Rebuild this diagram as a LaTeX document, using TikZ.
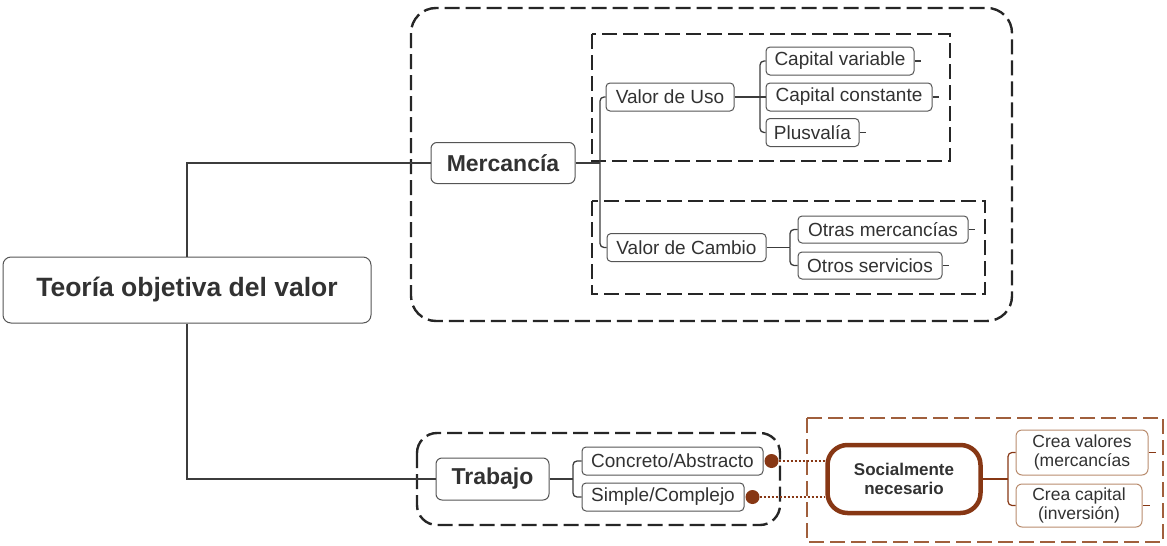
\documentclass[tikz,border=0pt]{standalone}
\usepackage{fontspec}
\setmainfont{Liberation Sans}
\definecolor{txt}{RGB}{50,50,50}
\definecolor{boxgray}{RGB}{85,85,85}
\definecolor{linegray}{RGB}{60,60,60}
\definecolor{brownD}{RGB}{135,55,20}
\definecolor{brownM}{RGB}{160,95,60}
\definecolor{brownL}{RGB}{185,140,110}
\tikzset{
  box/.style={draw=boxgray, line width=1pt, rounded corners=4pt, fill=white, inner sep=0pt,
    text=txt, font=\fontsize{19}{21}\selectfont},
  bigbox/.style={box, rounded corners=8pt, font=\bfseries\fontsize{26.5}{30}\selectfont},
  midbox/.style={box, rounded corners=6pt, font=\bfseries\fontsize{23}{26}\selectfont},
  socbox/.style={draw=brownD, line width=4.5pt, rounded corners=20pt, fill=white, inner sep=0pt,
    text=txt, align=center, font=\bfseries\fontsize{17}{19}\selectfont},
  creabox/.style={draw=brownL, line width=1pt, rounded corners=6pt, fill=white, inner sep=0pt,
    text=txt, align=center, font=\fontsize{17.5}{19.5}\selectfont},
  conn/.style={draw=linegray, line width=1.3pt, rounded corners=4pt},
  bconn/.style={draw=brownD, line width=1.2pt, rounded corners=4pt},
  frame/.style={draw=black!85, line width=2.4pt, dash pattern=on 15pt off 6pt},
  bframe/.style={draw=brownM, line width=2.2pt, dash pattern=on 15pt off 6pt},
  dot/.style={circle, fill=brownD, inner sep=0pt, minimum size=14pt},
  dotline/.style={draw=brownD, line width=2pt, dash pattern=on 2pt off 2pt},
}
\begin{document}
\begin{tikzpicture}[x=1pt,y=-1pt]
\useasboundingbox (0,0) rectangle (1167,546);

% frames
\draw[frame, rounded corners=25pt] (411,8) rectangle (1012,321);
\draw[frame] (592,34) rectangle (950,161);
\draw[frame] (592,201) rectangle (985,294);
\draw[frame, rounded corners=20pt] (417,433) rectangle (780,525);
\draw[bframe] (807,418) rectangle (1163,542);

% nodes
\node[bigbox, minimum width=368, minimum height=66] (main) at (187,290) {Teoría objetiva del valor};
\node[midbox, minimum width=144, minimum height=41] (merc) at (503,163) {Mercancía};
\node[box, minimum width=128, minimum height=28] (vu) at (670,97) {Valor de Uso};
\node[box, minimum width=148, minimum height=28] (cv) at (840,61) {Capital variable};
\node[box, minimum width=166, minimum height=28] (cc) at (849,97) {Capital constante};
\node[box, minimum width=93, minimum height=28] (pl) at (812.5,132.5) {Plusvalía};
\node[box, minimum width=159, minimum height=28] (vc) at (686.5,247.5) {Valor de Cambio};
\node[box, minimum width=170, minimum height=27] (om) at (883,229.5) {Otras mercancías};
\node[box, minimum width=144, minimum height=27] (os) at (870,265.5) {Otros servicios};
\node[midbox, minimum width=113, minimum height=42] (trab) at (492.5,479) {Trabajo};
\node[box, minimum width=181, minimum height=28] (ca) at (672.5,461) {Concreto/Abstracto};
\node[box, minimum width=162, minimum height=28] (sc) at (663,497) {Simple/Complejo};
\node[socbox, minimum width=153, minimum height=68] (soc) at (904,479) {Socialmente\\necesario};
\node[creabox, minimum width=132, minimum height=45] (crv) at (1082,452.5) {Crea valores\\(mercancías};
\node[creabox, minimum width=126, minimum height=43] (crc) at (1079,505.5) {Crea capital\\(inversión)};

% spine coordinates
\coordinate (m1) at (600,163);
\coordinate (u1) at (760,97);
\coordinate (c1) at (790,247.5);
\coordinate (t1) at (573,479);
\coordinate (s1) at (1008,479);

% connectors
\draw[conn, rounded corners=0pt] (main.north) |- (merc.west);
\draw[conn, rounded corners=0pt] (main.south) |- (trab.west);
\draw[conn] (merc.east) -- (m1);
\draw[conn] (vu.west) -| (m1);
\draw[conn] (vc.west) -| (m1);
\draw[conn] (vu.east) -- (u1);
\draw[conn] (cv.west) -| (u1);
\draw[conn] (cc.west) -- (u1);
\draw[conn] (pl.west) -| (u1);
\draw[conn] (vc.east) -- (c1);
\draw[conn] (om.west) -| (c1);
\draw[conn] (os.west) -| (c1);
\draw[conn] (trab.east) -- (t1);
\draw[conn] (ca.west) -| (t1);
\draw[conn] (sc.west) -| (t1);
\draw[bconn] (soc.east) -- (s1);
\draw[bconn] (crv.west) -| (s1);
\draw[bconn] (crc.west) -| (s1);

% ticks
\draw[conn] (cv.east) -- ++(6,0);
\draw[conn] (cc.east) -- ++(6,0);
\draw[conn] (pl.east) -- ++(6,0);
\draw[conn] (om.east) -- ++(6,0);
\draw[conn] (os.east) -- ++(6,0);
\draw[bconn] (crv.east) -- ++(7,0);
\draw[bconn] (crc.east) -- ++(7,0);

% dots and dotted links
\node[dot] (d1) at ([xshift=8pt]ca.east) {};
\node[dot] (d2) at ([xshift=8pt]sc.east) {};
\draw[dotline] (d1.east) -- (d1.east -| soc.west);
\draw[dotline] (d2.east) -- (d2.east -| soc.west);
\end{tikzpicture}
\end{document}
